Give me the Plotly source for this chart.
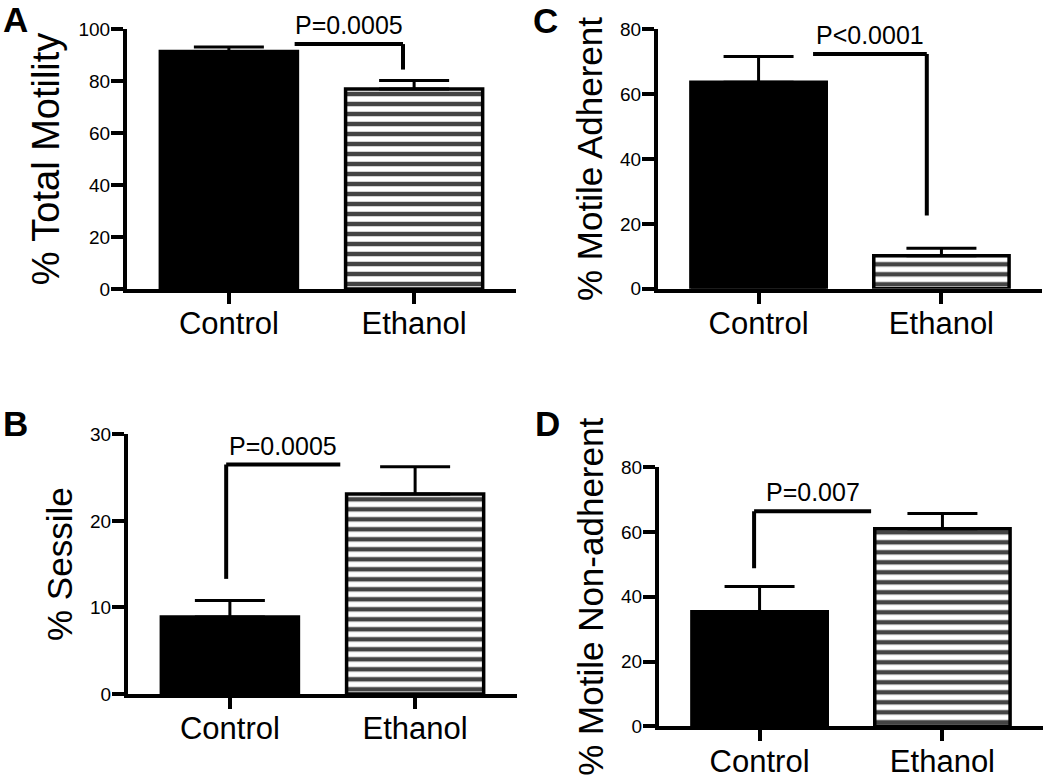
import plotly.graph_objects as go

# ---------------- data ----------------
groups = ["Control", "Ethanol"]

total_motility = [91.3, 76.9]
total_motility_err = [1.8, 3.3]

sessile = [8.9, 23.1]
sessile_err = [1.9, 3.15]

motile_adherent = [63.7, 10.2]
motile_adherent_err = [7.9, 2.3]

motile_nonadherent = [35.4, 61.0]
motile_nonadherent_err = [7.8, 4.7]

p_labels = ["P=0.0005", "P<0.0001", "P=0.0005", "P=0.007"]
titles = ["% Total Motility", "% Motile Adherent", "% Sessile", "% Motile Non-adherent"]
letters = ["A", "C", "B", "D"]
y_max = [100, 80, 30, 80]
y_dtick = [20, 20, 10, 20]

# bracket specs: (x_left, x_right, y_top, y_drop_end, drop_side)
brackets = [
    (0.355, 0.94, 94.2, 84.4, "right"),
    (0.298, 0.92, 72.4, 22.6, "right"),
    (-0.02, 0.596, 26.5, 13.3, "left"),
    (-0.03, 0.61, 66.4, 48.8, "left"),
]

values = [total_motility, motile_adherent, sessile, motile_nonadherent]
errors = [total_motility_err, motile_adherent_err, sessile_err, motile_nonadherent_err]

# ---------------- layout geometry (pixels -> paper) ----------------
W, H = 1050, 779
# plot-area edges in pixels: (x_left, x_right, y_top, y_bottom)
panels_px = [
    (127, 516, 29, 289),       # A
    (658, 1042, 29.3, 288.7),  # C
    (128, 517, 434.3, 694),    # B
    (659, 1043, 467.3, 726.3), # D
]
title_sizes = [38, 35, 35, 35]
title_standoff = [8, 8, 8, 8]
letter_pos = [(15, 19), (545, 21), (15, 423), (547, 423)]

FONT = "Liberation Sans, Arial, Helvetica, sans-serif"


def px_x(v):
    return v / W


def px_y(v):
    return 1 - v / H


fig = go.Figure()
layout = dict(
    width=W, height=H,
    margin=dict(l=0, r=0, t=0, b=0, pad=0, autoexpand=False),
    paper_bgcolor="white", plot_bgcolor="white",
    showlegend=False,
    font=dict(family=FONT, color="black"),
    annotations=[], shapes=[],
)

for i in range(4):
    ax = "" if i == 0 else str(i + 1)
    xa, ya = "x" + ax, "y" + ax
    fig.add_trace(go.Bar(
        x=[0, 1], y=values[i],
        xaxis=xa, yaxis=ya,
        width=0.74,
        marker=dict(
            color=["black", "white"],
            line=dict(color="black", width=3.5),
            pattern=dict(shape=["", "-"], fgcolor="black", bgcolor="white",
                         fgopacity=1, size=10, solidity=0.45),
        ),
        error_y=dict(type="data", array=errors[i], arrayminus=[0, 0], symmetric=False,
                     color="black", thickness=3, width=35),
    ))
    x0, x1, y0, y1 = panels_px[i]
    layout["xaxis" + ax] = dict(
        domain=[px_x(x0), px_x(x1)], anchor=ya, range=[-0.55, 1.55],
        tickvals=[0, 1], ticktext=groups, automargin=False,
        showline=True, linecolor="black", linewidth=4,
        ticks="outside", ticklen=11, tickwidth=3.5, tickcolor="black",
        showgrid=False, zeroline=False, fixedrange=True,
        tickfont=dict(size=31, family=FONT, color="black"),
        ticklabelstandoff=-7,
    )
    layout["yaxis" + ax] = dict(
        domain=[px_y(y1), px_y(y0)], anchor=xa, range=[0, y_max[i]],
        dtick=y_dtick[i], tick0=0, automargin=False,
        showline=True, linecolor="black", linewidth=4,
        ticks="outside", ticklen=12, tickwidth=3.5, tickcolor="black",
        showgrid=False, zeroline=False, fixedrange=True,
        tickfont=dict(size=19, family=FONT, color="black"),
        ticklabelstandoff=-3,
        title=dict(text=titles[i], font=dict(size=title_sizes[i], family=FONT, color="black"),
                   standoff=title_standoff[i]),
    )
    # bracket
    bl, br, by, bd, side = brackets[i]
    xd = br if side == "right" else bl
    layout["shapes"].append(dict(type="line", xref=xa, yref=ya, x0=bl, x1=br, y0=by, y1=by,
                                 line=dict(color="black", width=4)))
    layout["shapes"].append(dict(type="line", xref=xa, yref=ya, x0=xd, x1=xd, y0=by, y1=bd,
                                 line=dict(color="black", width=4)))
    layout["annotations"].append(dict(
        xref=xa, yref=ya, x=(bl + br) / 2, y=by, yanchor="bottom", xanchor="center",
        yshift=3, text=p_labels[i], showarrow=False,
        font=dict(size=25, family=FONT, color="black"),
    ))
    lx, ly = letter_pos[i]
    layout["annotations"].append(dict(
        xref="paper", yref="paper", x=px_x(lx), y=px_y(ly), xanchor="center", yanchor="middle",
        text="<b>%s</b>" % letters[i], showarrow=False,
        font=dict(size=35, family=FONT, color="black"),
    ))

fig.update_layout(**layout)
fig.write_html("out.html",
               config={"displayModeBar": False},
               post_script="document.body.style.margin='0px';document.body.style.overflow='hidden';")
